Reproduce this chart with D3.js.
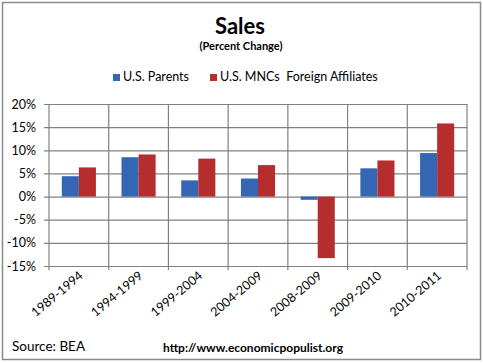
<!DOCTYPE html>
<html><head><meta charset="utf-8">
<script src="https://cdn.jsdelivr.net/npm/d3@7"></script>
<style>body{margin:0;background:#fff;}svg{display:block;}</style>
</head><body>
<svg id="c" width="483" height="363"></svg>
<script>
const categories = ["1989-1994","1994-1999","1999-2004","2004-2009","2008-2009","2009-2010","2010-2011"];
const seriesNames = ["U.S. Parents","U.S. MNCs  Foreign Affiliates"];
const parents = [4.4, 8.5, 3.5, 3.9, -0.7, 6.1, 9.4];
const affiliates = [6.3, 9.1, 8.2, 6.8, -13.3, 7.8, 15.8];
const yTicks = [-15,-10,-5,0,5,10,15,20];
const colors = ["#3466b4","#b62d2e"];
const font = "Lato, 'Open Sans', sans-serif";

const svg = d3.select("#c");
svg.append("rect").attr("x",2.5).attr("y",2.5).attr("width",478).attr("height",357)
  .attr("fill","#fff").attr("stroke","#8a8a8a").attr("stroke-width",1.5);

const x = d3.scaleBand().domain(categories).range([49,467]).paddingInner(0).paddingOuter(0);
const y = d3.scaleLinear().domain([-15,20]).range([266,104]);
const xs = d3.scaleBand().domain([0,1]).range([0,x.bandwidth()]).paddingInner(0).paddingOuter(0.75);

// horizontal grid
const gy = svg.append("g").attr("transform","translate(49,0)")
  .call(d3.axisLeft(y).tickValues(yTicks).tickSize(-418).tickSizeOuter(0).tickFormat(d=>d+"%").tickPadding(7));
gy.select(".domain").remove();
gy.selectAll(".tick line").attr("stroke","#808080").attr("stroke-width",1.2).attr("x1",-5);
gy.selectAll(".tick text").attr("font-family",font).attr("font-size",12.5).attr("fill","#000").attr("x",-13);

// vertical grid lines at category boundaries
const bounds = categories.map(c=>x(c)).concat([x.range()[1]]);
svg.append("g").selectAll("line").data(bounds).join("line")
  .attr("x1",d=>d).attr("x2",d=>d).attr("y1",104).attr("y2",270)
  .attr("stroke","#808080").attr("stroke-width",1.2);

// bars
const data = categories.map((c,i)=>({c, v:[parents[i],affiliates[i]]}));
const g = svg.append("g");
data.forEach(d=>{
  d.v.forEach((v,j)=>{
    g.append("rect").attr("x",x(d.c)+xs(j)).attr("width",xs.bandwidth())
      .attr("y",y(Math.max(0,v))).attr("height",Math.abs(y(v)-y(0)))
      .attr("fill",colors[j]);
  });
});

// x labels
svg.append("g").selectAll("text").data(categories).join("text")
  .attr("transform",d=>`translate(${x(d)+x.bandwidth()/2+5},${277}) rotate(-40)`)
  .attr("text-anchor","end").attr("font-family",font).attr("font-size",12.5).attr("fill","#000")
  .text(d=>d);

// title
svg.append("text").attr("x",240).attr("y",34).attr("text-anchor","middle")
  .attr("font-family",font).attr("font-weight","bold").attr("font-size",22).text("Sales");
svg.append("text").attr("x",241).attr("y",50).attr("text-anchor","middle")
  .attr("font-family",font).attr("font-weight","bold").attr("font-size",11).text("(Percent Change)");

// legend
const lx = [113,210];
seriesNames.forEach((n,i)=>{
  svg.append("rect").attr("x",lx[i]).attr("y",74).attr("width",7).attr("height",7).attr("fill",colors[i]);
  svg.append("text").attr("x",lx[i]+10).attr("y",81).attr("font-family",font).attr("font-size",12.5)
    .attr("xml:space","preserve").style("white-space","pre").text(n);
});

svg.append("text").attr("x",12).attr("y",351).attr("font-family",font).attr("font-size",13.5).text("Source: BEA");
svg.append("text").attr("x",163).attr("y",352).attr("font-family",font).attr("font-weight","bold").attr("font-size",12).text("http://www.economicpopulist.org");
</script>
</body></html>
